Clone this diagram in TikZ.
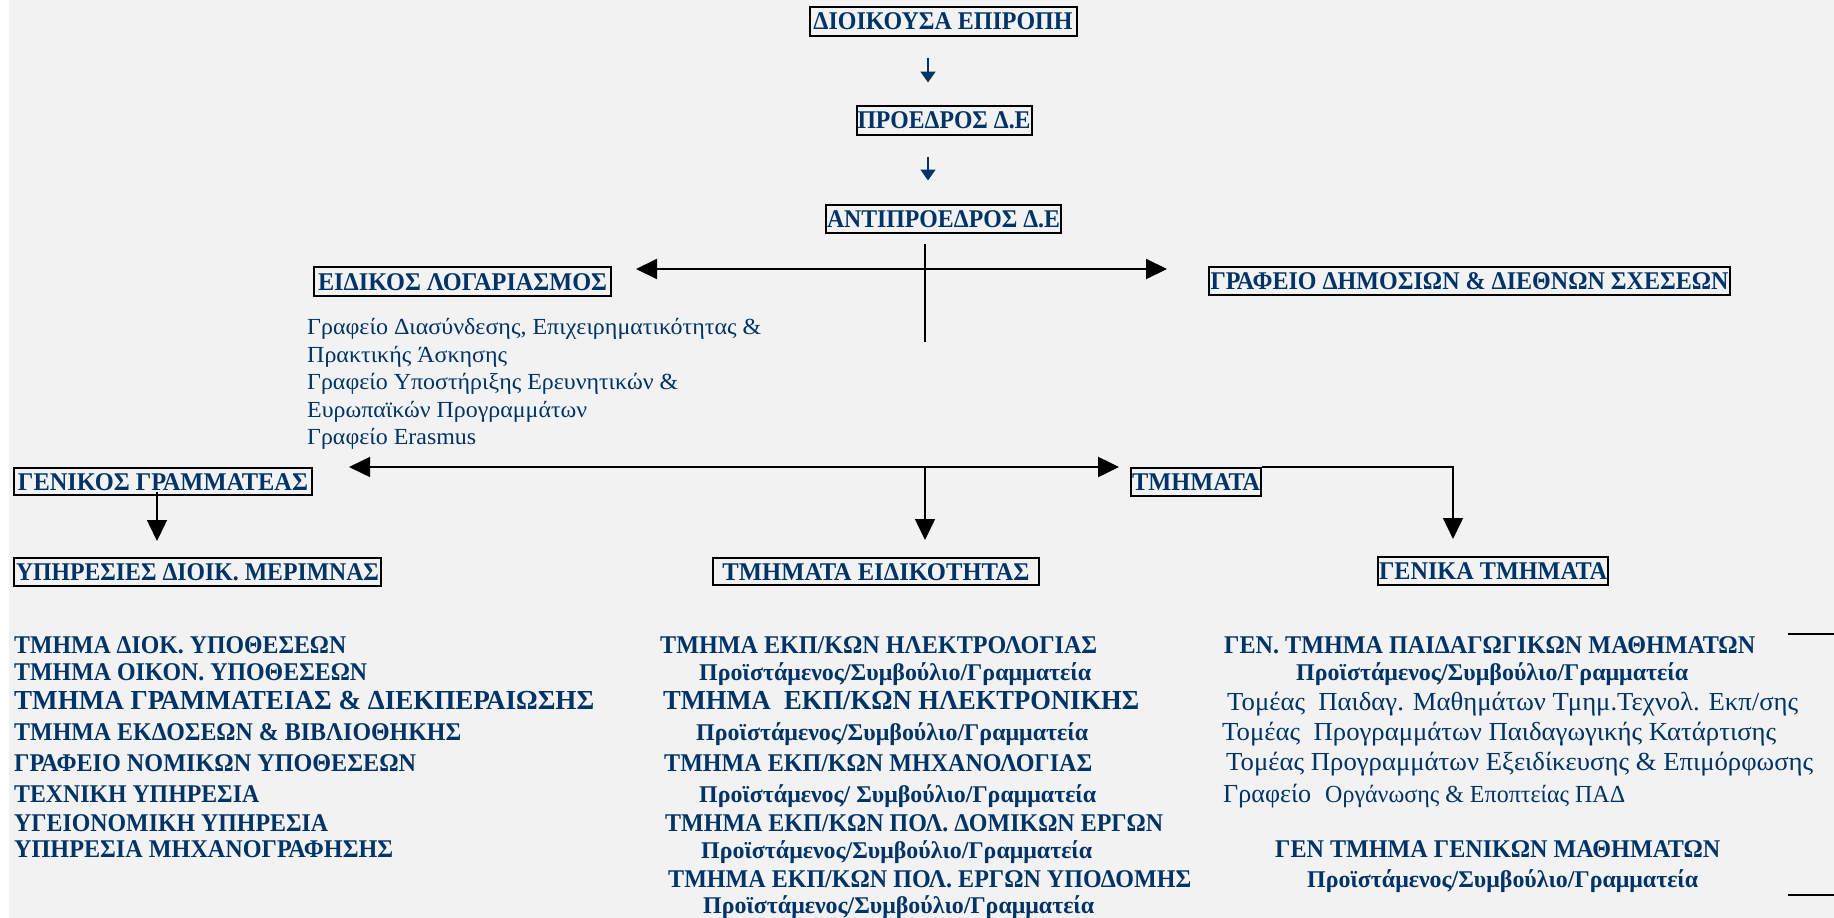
\documentclass[tikz,border=0pt]{standalone}
\usepackage{fontspec}
\setmainfont{Liberation Serif}
\usetikzlibrary{arrows.meta}
\definecolor{navy}{RGB}{0,51,102}
\definecolor{bg}{RGB}{242,242,242}
\begin{document}
\begin{tikzpicture}[x=1pt,y=-1pt,
  box/.style={draw=black, line width=2pt, inner sep=0pt, text=navy,
    font=\fontsize{25.5}{30}\selectfont\bfseries, text height=17pt, text depth=0pt},
  tl/.style={anchor=base west, inner sep=0pt, text=navy},
  bcap/.style={tl, font=\fontsize{25.5}{30}\selectfont\bfseries},
  bbig/.style={tl, font=\fontsize{27.5}{32}\selectfont\bfseries},
  bsub/.style={tl, font=\fontsize{24}{28}\selectfont\bfseries},
  reg/.style={tl, font=\fontsize{23}{28}\selectfont},
  regb/.style={tl, font=\fontsize{26}{30}\selectfont},
  regs/.style={tl, font=\fontsize{24.5}{28}\selectfont},
  conn/.style={draw=black, line width=1.5pt, -{Triangle[width=20pt,length=21pt]}},
  plain/.style={draw=black, line width=1.5pt},
  smallarr/.style={draw=navy, line width=1.8pt, -{Triangle[width=15pt,length=11pt]}}
]
\useasboundingbox (0,0) rectangle (1834,918);
\fill[white] (0,0) rectangle (1834,918);
\fill[bg] (9,0) rectangle (1834,918);

% boxes
\node[box, minimum width=267pt, minimum height=29pt] (top) at (943,21) {\resizebox{259pt}{\height}{ΔΙΟΙΚΟΥΣΑ ΕΠΙΡΟΠΗ}};
\node[box, minimum width=175pt, minimum height=29pt] (pres) at (944,120) {\resizebox{173pt}{\height}{ΠΡΟΕΔΡΟΣ Δ.Ε}};
\node[box, minimum width=235pt, minimum height=28pt] (vice) at (943.5,218.5) {\resizebox{233pt}{\height}{ΑΝΤΙΠΡΟΕΔΡΟΣ Δ.Ε}};
\node[box, minimum width=297pt, minimum height=29pt] (eid) at (462.5,281.5) {\resizebox{289pt}{\height}{ΕΙΔΙΚΟΣ ΛΟΓΑΡΙΑΣΜΟΣ}\hspace{5pt}};
\node[box, minimum width=521pt, minimum height=28pt] (graf) at (1469.5,281) {\resizebox{518pt}{\height}{ΓΡΑΦΕΙΟ ΔΗΜΟΣΙΩΝ \& ΔΙΕΘΝΩΝ ΣΧΕΣΕΩΝ}};
\node[box, minimum width=298pt, minimum height=27pt] (gen) at (163,481.5) {\resizebox{290pt}{\height}{ΓΕΝΙΚΟΣ ΓΡΑΜΜΑΤΕΑΣ}\hspace{4pt}};
\node[box, minimum width=130pt, minimum height=28pt] (tm) at (1196,482) {\resizebox{128pt}{\height}{ΤΜΗΜΑΤΑ}};
\node[box, minimum width=367pt, minimum height=28pt] (yp) at (197.5,572) {\resizebox{363pt}{\height}{ΥΠΗΡΕΣΙΕΣ ΔΙΟΙΚ. ΜΕΡΙΜΝΑΣ}};
\node[box, minimum width=326pt, minimum height=27pt] (eidt) at (876,571.5) {\resizebox{307pt}{\height}{ΤΜΗΜΑΤΑ ΕΙΔΙΚΟΤΗΤΑΣ}\hspace{7pt}};
\node[box, minimum width=230pt, minimum height=28pt] (gt) at (1493,571) {\resizebox{228pt}{\height}{ΓΕΝΙΚΑ ΤΜΗΜΑΤΑ}};

% text under ΕΙΔΙΚΟΣ ΛΟΓΑΡΙΑΣΜΟΣ
\node[reg] (e1) at (307,334) {\resizebox{454pt}{\height}{Γραφείο Διασύνδεσης, Επιχειρηματικότητας \&}};
\node[reg] (e2) at (307,362) {\resizebox{200pt}{\height}{Πρακτικής Άσκησης}};
\node[reg] (e3) at (307,389) {\resizebox{371pt}{\height}{Γραφείο Υποστήριξης Ερευνητικών \&}};
\node[reg] (e4) at (307,417) {\resizebox{280pt}{\height}{Ευρωπαϊκών Προγραμμάτων}};
\node[reg] (e5) at (307,444) {\resizebox{169pt}{\height}{Γραφείο Erasmus}};

% left list
\node[bcap] (l1) at (14,653) {\resizebox{332pt}{\height}{ΤΜΗΜΑ ΔΙΟΚ. ΥΠΟΘΕΣΕΩΝ}};
\node[bcap] (l2) at (14,680) {\resizebox{353pt}{\height}{ΤΜΗΜΑ ΟΙΚΟΝ. ΥΠΟΘΕΣΕΩΝ}};
\node[bbig] (l3) at (14,709) {\resizebox{580pt}{\height}{ΤΜΗΜΑ ΓΡΑΜΜΑΤΕΙΑΣ \& ΔΙΕΚΠΕΡΑΙΩΣΗΣ}};
\node[bcap] (l4) at (14,740) {\resizebox{447pt}{\height}{ΤΜΗΜΑ ΕΚΔΟΣΕΩΝ \& ΒΙΒΛΙΟΘΗΚΗΣ}};
\node[bcap] (l5) at (14,771) {\resizebox{402pt}{\height}{ΓΡΑΦΕΙΟ ΝΟΜΙΚΩΝ ΥΠΟΘΕΣΕΩΝ}};
\node[bcap] (l6) at (14,802) {\resizebox{245pt}{\height}{ΤΕΧΝΙΚΗ ΥΠΗΡΕΣΙΑ}};
\node[bcap] (l7) at (14,831) {\resizebox{314pt}{\height}{ΥΓΕΙΟΝΟΜΙΚΗ ΥΠΗΡΕΣΙΑ}};
\node[bcap] (l8) at (14,857) {\resizebox{379pt}{\height}{ΥΠΗΡΕΣΙΑ ΜΗΧΑΝΟΓΡΑΦΗΣΗΣ}};

% middle list
\node[bcap] (m1) at (660,653) {\resizebox{437pt}{\height}{ΤΜΗΜΑ ΕΚΠ/ΚΩΝ ΗΛΕΚΤΡΟΛΟΓΙΑΣ}};
\node[bsub] (m2) at (699,680) {\resizebox{392pt}{\height}{Προϊστάμενος/Συμβούλιο/Γραμματεία}};
\node[bbig] (m3) at (663,709) {\resizebox{476pt}{\height}{ΤΜΗΜΑ\ \ ΕΚΠ/ΚΩΝ ΗΛΕΚΤΡΟΝΙΚΗΣ}};
\node[bsub] (m4) at (696,740) {\resizebox{392pt}{\height}{Προϊστάμενος/Συμβούλιο/Γραμματεία}};
\node[bcap] (m5) at (664,771) {\resizebox{428pt}{\height}{ΤΜΗΜΑ ΕΚΠ/ΚΩΝ ΜΗΧΑΝΟΛΟΓΙΑΣ}};
\node[bsub] (m6) at (699,802) {\resizebox{397pt}{\height}{Προϊστάμενος/ Συμβούλιο/Γραμματεία}};
\node[bcap] (m7) at (665,831) {\resizebox{498pt}{\height}{ΤΜΗΜΑ ΕΚΠ/ΚΩΝ ΠΟΛ. ΔΟΜΙΚΩΝ ΕΡΓΩΝ}};
\node[bsub] (m8) at (701,858) {\resizebox{391pt}{\height}{Προϊστάμενος/Συμβούλιο/Γραμματεία}};
\node[bcap] (m9) at (668,887) {\resizebox{523pt}{\height}{ΤΜΗΜΑ ΕΚΠ/ΚΩΝ ΠΟΛ. ΕΡΓΩΝ ΥΠΟΔΟΜΗΣ}};
\node[bsub] (m10) at (703,913) {\resizebox{391pt}{\height}{Προϊστάμενος/Συμβούλιο/Γραμματεία}};

% right list
\node[bcap] (r1) at (1224,653) {\resizebox{531pt}{\height}{ΓΕΝ. ΤΜΗΜΑ ΠΑΙΔΑΓΩΓΙΚΩΝ ΜΑΘΗΜΑΤΩΝ}};
\node[bsub] (r2) at (1296,680) {\resizebox{392pt}{\height}{Προϊστάμενος/Συμβούλιο/Γραμματεία}};
\node[regb] (r3) at (1227,710) {\resizebox{571pt}{\height}{Τομέας\ \ Παιδαγ. Μαθημάτων Τμημ.Τεχνολ. Εκπ/σης}};
\node[regb] (r4) at (1222,740) {\resizebox{554pt}{\height}{Τομέας\ \ Προγραμμάτων Παιδαγωγικής Κατάρτισης}};
\node[regb] (r5) at (1226,770) {\resizebox{587pt}{\height}{Τομέας Προγραμμάτων Εξειδίκευσης \& Επιμόρφωσης}};
\node[regb] (r6a) at (1223,802) {\resizebox{88pt}{\height}{Γραφείο}};
\node[regs] (r6b) at (1325,802) {\resizebox{300pt}{\height}{Οργάνωσης \& Εποπτείας ΠΑΔ}};
\node[bcap] (r7) at (1275,857) {\resizebox{445pt}{\height}{ΓΕΝ ΤΜΗΜΑ ΓΕΝΙΚΩΝ ΜΑΘΗΜΑΤΩΝ}};
\node[bsub] (r8) at (1307,887) {\resizebox{391pt}{\height}{Προϊστάμενος/Συμβούλιο/Γραμματεία}};

% helper coordinates
\coordinate (vtop) at (925,244);
\coordinate (vbot) at (925,342);
\coordinate (hy1) at (925,269);
\coordinate (hy2) at (925,467);
\coordinate (gx) at (1453,467);
\coordinate (e1a) at (1788,634);
\coordinate (e1b) at (1834,634);
\coordinate (e2a) at (1788,895);
\coordinate (e2b) at (1834,895);

% small blue arrows
\draw[smallarr, shorten <=21pt, shorten >=22pt] ([xshift=-15pt]top.south) -- ([xshift=-15pt]top.south |- pres.north);
\draw[smallarr, shorten <=21pt, shorten >=23pt] ([xshift=-16pt]pres.south) -- ([xshift=-16pt]pres.south |- vice.north);

% connectors
\draw[plain] (vtop) -- (vbot);
\draw[conn, line width=2pt, shorten >=24pt] (hy1) -- (eid.east |- hy1);
\draw[conn, line width=2pt, shorten >=41pt] (hy1) -- (graf.west |- hy1);
\draw[conn, shorten >=36pt] (hy2) -- (gen.east |- hy2);
\draw[conn, line width=2.5pt, shorten >=11pt] (hy2) -- (tm.west |- hy2);
\draw[conn, shorten >=17pt] (hy2) -- (hy2 |- eidt.north);
\draw[conn, shorten >=17pt] (tm.north east) -| (gx |- gt.north);
\draw[conn, shorten >=16pt] ([xshift=-6pt,yshift=4pt]gen.south) -- ([xshift=-6pt]gen.south |- yp.north);
\draw[plain] (e1a) -- (e1b);
\draw[plain] (e2a) -- (e2b);
\end{tikzpicture}
\end{document}
